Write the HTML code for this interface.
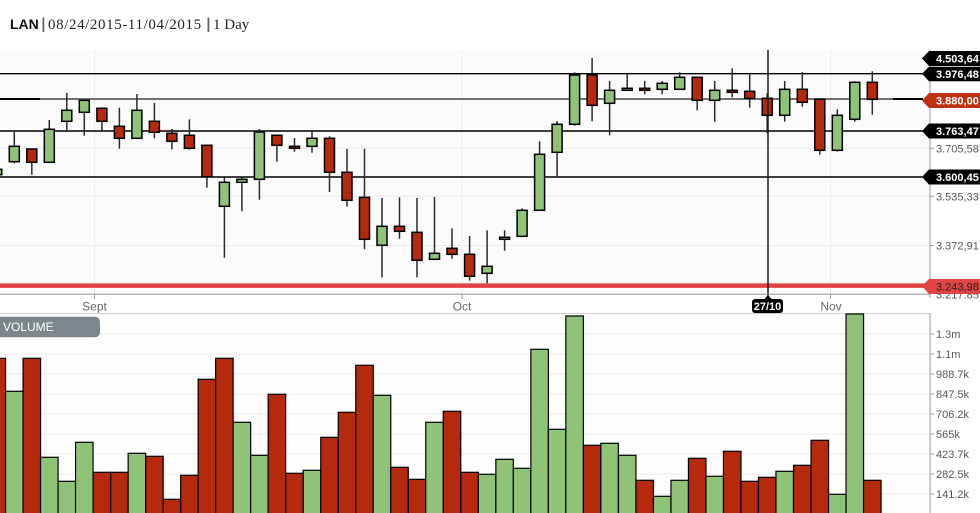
<!DOCTYPE html>
<html><head><meta charset="utf-8">
<style>
html,body{margin:0;padding:0;background:#fff;}
svg{display:block;}
</style></head>
<body>
<svg width="980" height="513" viewBox="0 0 980 513" xmlns="http://www.w3.org/2000/svg" font-family="Liberation Sans, Arial, sans-serif">
<rect x="0" y="0" width="980" height="513" fill="#ffffff"/>
<text x="10" y="29" font-size="14" font-weight="bold" fill="#111">LAN</text>
<rect x="42.5" y="17.5" width="1.8" height="14.5" fill="#666"/>
<text x="48" y="29" font-size="15" letter-spacing="0.6" fill="#222" font-family="Liberation Serif, serif">08/24/2015-11/04/2015</text>
<rect x="207.5" y="17.5" width="1.8" height="14.5" fill="#666"/>
<text x="213" y="29" font-size="15" fill="#222" font-family="Liberation Serif, serif">1 Day</text>
<rect x="0" y="50" width="930" height="244" fill="#fbfbfb"/>
<g stroke="#ececec" stroke-width="1">
<line x1="0" y1="148.3" x2="930" y2="148.3"/>
<line x1="0" y1="196.3" x2="930" y2="196.3"/>
<line x1="0" y1="245.5" x2="930" y2="245.5"/>
<line x1="94.5" y1="50" x2="94.5" y2="294"/>
<line x1="462" y1="50" x2="462" y2="294"/>
<line x1="830.5" y1="50" x2="830.5" y2="294"/>
</g>
<g stroke="#000" stroke-width="1.4">
<line x1="0" y1="73.7" x2="923" y2="73.7"/>
<line x1="0" y1="131" x2="923" y2="131"/>
<line x1="0" y1="177" x2="923" y2="177"/>
</g>
<line x1="0" y1="99" x2="40" y2="99" stroke="#000" stroke-width="2"/>
<line x1="40" y1="99" x2="893" y2="99" stroke="#707070" stroke-width="2"/>
<line x1="893" y1="99" x2="923" y2="99" stroke="#000" stroke-width="2"/>
<g stroke="#2b2b2b" stroke-width="1.5">
<line x1="14.3" y1="131" x2="14.3" y2="163.3"/>
<line x1="31.8" y1="149" x2="31.8" y2="174.7"/>
<line x1="49.3" y1="120" x2="49.3" y2="162.3"/>
<line x1="66.8" y1="93" x2="66.8" y2="130.7"/>
<line x1="84.3" y1="99.3" x2="84.3" y2="135.7"/>
<line x1="101.9" y1="107.3" x2="101.9" y2="130.7"/>
<line x1="119.4" y1="107.7" x2="119.4" y2="148.7"/>
<line x1="136.9" y1="94" x2="136.9" y2="138.3"/>
<line x1="154.4" y1="103" x2="154.4" y2="138.3"/>
<line x1="171.9" y1="129" x2="171.9" y2="149.3"/>
<line x1="189.4" y1="119.3" x2="189.4" y2="149.7"/>
<line x1="206.9" y1="145.3" x2="206.9" y2="187.7"/>
<line x1="224.4" y1="177.3" x2="224.4" y2="257.7"/>
<line x1="241.9" y1="177.3" x2="241.9" y2="211.3"/>
<line x1="259.4" y1="129" x2="259.4" y2="199.7"/>
<line x1="276.9" y1="135.3" x2="276.9" y2="161.7"/>
<line x1="294.5" y1="138" x2="294.5" y2="151.7"/>
<line x1="312" y1="131.3" x2="312" y2="152.7"/>
<line x1="329.5" y1="136.3" x2="329.5" y2="192"/>
<line x1="347" y1="149" x2="347" y2="206.7"/>
<line x1="364.5" y1="148.7" x2="364.5" y2="249.3"/>
<line x1="382" y1="198" x2="382" y2="277.3"/>
<line x1="399.5" y1="197.3" x2="399.5" y2="238.7"/>
<line x1="417" y1="198" x2="417" y2="277.3"/>
<line x1="434.5" y1="197" x2="434.5" y2="259.3"/>
<line x1="452" y1="228.3" x2="452" y2="258.7"/>
<line x1="469.6" y1="236" x2="469.6" y2="280.7"/>
<line x1="487.1" y1="230.3" x2="487.1" y2="283.3"/>
<line x1="504.6" y1="230.3" x2="504.6" y2="250.7"/>
<line x1="522.1" y1="208.3" x2="522.1" y2="237.3"/>
<line x1="539.6" y1="141.3" x2="539.6" y2="210.3"/>
<line x1="557.1" y1="121" x2="557.1" y2="177"/>
<line x1="574.6" y1="72.3" x2="574.6" y2="125.7"/>
<line x1="592.1" y1="58" x2="592.1" y2="121.3"/>
<line x1="609.6" y1="81" x2="609.6" y2="135.3"/>
<line x1="627.2" y1="74.3" x2="627.2" y2="90.3"/>
<line x1="644.7" y1="81" x2="644.7" y2="94.3"/>
<line x1="662.2" y1="81" x2="662.2" y2="94.3"/>
<line x1="679.7" y1="72.3" x2="679.7" y2="89.3"/>
<line x1="697.2" y1="77.3" x2="697.2" y2="110.3"/>
<line x1="714.7" y1="81" x2="714.7" y2="121.7"/>
<line x1="732.2" y1="68.3" x2="732.2" y2="97.3"/>
<line x1="749.7" y1="73.3" x2="749.7" y2="107.7"/>
<line x1="767.2" y1="93.3" x2="767.2" y2="133.3"/>
<line x1="784.7" y1="81" x2="784.7" y2="121.7"/>
<line x1="802.3" y1="72" x2="802.3" y2="106.7"/>
<line x1="819.8" y1="99.3" x2="819.8" y2="154.7"/>
<line x1="837.3" y1="109.3" x2="837.3" y2="151.7"/>
<line x1="854.8" y1="81.3" x2="854.8" y2="121.7"/>
<line x1="872.3" y1="71.3" x2="872.3" y2="114.7"/>
</g>
<g stroke="#000" stroke-width="1.5">
<rect x="-8.2" y="169.3" width="10" height="5.4" fill="#8ec378"/>
<rect x="9.3" y="146.3" width="10" height="15.4" fill="#8ec378"/>
<rect x="26.8" y="149" width="10" height="13.3" fill="#b52a0c"/>
<rect x="44.3" y="129.3" width="10" height="33" fill="#8ec378"/>
<rect x="61.8" y="110.3" width="10" height="11" fill="#8ec378"/>
<rect x="79.3" y="100.3" width="10" height="12" fill="#8ec378"/>
<rect x="96.9" y="108.3" width="10" height="13" fill="#b52a0c"/>
<rect x="114.4" y="126.3" width="10" height="12" fill="#b52a0c"/>
<rect x="131.9" y="110.3" width="10" height="28" fill="#8ec378"/>
<rect x="149.4" y="121.3" width="10" height="11" fill="#b52a0c"/>
<rect x="166.9" y="133.3" width="10" height="8" fill="#b52a0c"/>
<rect x="184.4" y="135.3" width="10" height="13" fill="#b52a0c"/>
<rect x="201.9" y="145.3" width="10" height="31.4" fill="#b52a0c"/>
<rect x="219.4" y="182.3" width="10" height="24" fill="#8ec378"/>
<rect x="236.9" y="179.3" width="10" height="3" fill="#8ec378"/>
<rect x="254.4" y="132" width="10" height="47.3" fill="#8ec378"/>
<rect x="271.9" y="135.3" width="10" height="10" fill="#b52a0c"/>
<rect x="289.5" y="146.3" width="10" height="2" fill="#b52a0c"/>
<rect x="307" y="138.3" width="10" height="8" fill="#8ec378"/>
<rect x="324.5" y="138.3" width="10" height="34" fill="#b52a0c"/>
<rect x="342" y="172.3" width="10" height="28" fill="#b52a0c"/>
<rect x="359.5" y="197.3" width="10" height="42" fill="#b52a0c"/>
<rect x="377" y="226.3" width="10" height="19" fill="#8ec378"/>
<rect x="394.5" y="226.3" width="10" height="5" fill="#b52a0c"/>
<rect x="412" y="232.3" width="10" height="28" fill="#b52a0c"/>
<rect x="429.5" y="253.3" width="10" height="6" fill="#8ec378"/>
<rect x="447" y="248.3" width="10" height="6" fill="#b52a0c"/>
<rect x="464.6" y="254.3" width="10" height="22" fill="#b52a0c"/>
<rect x="482.1" y="266.3" width="10" height="7" fill="#8ec378"/>
<rect x="499.6" y="237.3" width="10" height="2" fill="#8ec378"/>
<rect x="517.1" y="210.3" width="10" height="26" fill="#8ec378"/>
<rect x="534.6" y="154.3" width="10" height="56" fill="#8ec378"/>
<rect x="552.1" y="124.3" width="10" height="28" fill="#8ec378"/>
<rect x="569.6" y="75" width="10" height="49.3" fill="#8ec378"/>
<rect x="587.1" y="75" width="10" height="30.3" fill="#b52a0c"/>
<rect x="604.6" y="90.3" width="10" height="13" fill="#8ec378"/>
<rect x="622.2" y="88.3" width="10" height="2" fill="#8ec378"/>
<rect x="639.7" y="88.3" width="10" height="2" fill="#b52a0c"/>
<rect x="657.2" y="83.3" width="10" height="6" fill="#8ec378"/>
<rect x="674.7" y="77.3" width="10" height="12" fill="#8ec378"/>
<rect x="692.2" y="77.3" width="10" height="23" fill="#b52a0c"/>
<rect x="709.7" y="90.3" width="10" height="10" fill="#8ec378"/>
<rect x="727.2" y="90.3" width="10" height="2" fill="#b52a0c"/>
<rect x="744.7" y="91.3" width="10" height="7" fill="#b52a0c"/>
<rect x="762.2" y="98.3" width="10" height="17" fill="#b52a0c"/>
<rect x="779.7" y="89.3" width="10" height="26" fill="#8ec378"/>
<rect x="797.3" y="89.3" width="10" height="13" fill="#b52a0c"/>
<rect x="814.8" y="99.3" width="10" height="51" fill="#b52a0c"/>
<rect x="832.3" y="115.3" width="10" height="35" fill="#8ec378"/>
<rect x="849.8" y="82.3" width="10" height="37" fill="#8ec378"/>
<rect x="867.3" y="82.3" width="10" height="17" fill="#b52a0c"/>
</g>
<line x1="0" y1="285.6" x2="925" y2="285.6" stroke="#e04343" stroke-width="4.5"/>
<line x1="768" y1="50" x2="768" y2="297" stroke="#1a1a1a" stroke-width="1.5"/>
<line x1="0" y1="294.3" x2="930" y2="294.3" stroke="#9a9a9a" stroke-width="1"/>
<g stroke="#9a9a9a" stroke-width="1">
<line x1="94.5" y1="294" x2="94.5" y2="299"/>
<line x1="462" y1="294" x2="462" y2="299"/>
<line x1="830.5" y1="294" x2="830.5" y2="299"/>
</g>
<g font-size="12" fill="#666" text-anchor="middle">
<text x="94.5" y="310.5">Sept</text>
<text x="462" y="310.5">Oct</text>
<text x="831" y="310.5">Nov</text>
</g>
<polygon points="764,299.5 768,295 772,299.5" fill="#000"/>
<rect x="752" y="299" width="31" height="14" rx="3" fill="#000"/>
<text x="767.5" y="310" font-size="11" font-weight="bold" fill="#fff" text-anchor="middle">27/10</text>
<line x1="930" y1="50" x2="930" y2="298" stroke="#9a9a9a" stroke-width="1"/>
<g stroke="#9a9a9a" stroke-width="1">
<line x1="930" y1="148.3" x2="934" y2="148.3"/>
<line x1="930" y1="196.3" x2="934" y2="196.3"/>
<line x1="930" y1="245.5" x2="934" y2="245.5"/>
</g>
<g font-size="11" fill="#555">
<text x="936" y="152.3">3.705,58</text>
<text x="936" y="200.3">3.535,33</text>
<text x="936" y="249.5">3.372,91</text>
<text x="936" y="298.5">3.217,85</text>
</g>
<rect x="931" y="298.5" width="49" height="14" fill="#fff"/>
<g font-size="11" font-weight="bold">
<polygon points="922,58.5 929,51 980,51 980,66 929,66" fill="#000"/>
<text x="936" y="62.5" fill="#fff">4.503,64</text>
<polygon points="922,73.8 929,66.8 980,66.8 980,81.3 929,81.3" fill="#000"/>
<text x="936" y="77.8" fill="#fff">3.976,48</text>
<polygon points="922,100.5 929,93 980,93 980,108 929,108" fill="#be3211"/>
<text x="936" y="104.5" fill="#fff">3.880,00</text>
<polygon points="922,131 929,123.5 980,123.5 980,138.5 929,138.5" fill="#000"/>
<text x="936" y="135" fill="#fff">3.763,47</text>
<polygon points="922,177 929,169.5 980,169.5 980,184.5 929,184.5" fill="#000"/>
<text x="936" y="181" fill="#fff">3.600,45</text>
<polygon points="922,286.3 929,279 980,279 980,294 929,294" fill="#e04343"/>
<text x="936" y="290.3" fill="#222" font-weight="normal">3.243,98</text>
</g>
<rect x="0" y="313.5" width="930" height="200" fill="#fdfdfd"/>
<line x1="0" y1="313.5" x2="930" y2="313.5" stroke="#cfcfcf" stroke-width="1"/>
<line x1="930" y1="313" x2="930" y2="513" stroke="#9a9a9a" stroke-width="1"/>
<g stroke="#ececec" stroke-width="1">
<line x1="0" y1="334" x2="930" y2="334"/>
<line x1="0" y1="354" x2="930" y2="354"/>
<line x1="0" y1="374" x2="930" y2="374"/>
<line x1="0" y1="394" x2="930" y2="394"/>
<line x1="0" y1="414" x2="930" y2="414"/>
<line x1="0" y1="434" x2="930" y2="434"/>
<line x1="0" y1="454" x2="930" y2="454"/>
<line x1="0" y1="474" x2="930" y2="474"/>
<line x1="0" y1="494" x2="930" y2="494"/>
</g>
<g stroke="#9a9a9a" stroke-width="1">
<line x1="930" y1="334" x2="934" y2="334"/>
<line x1="930" y1="354" x2="934" y2="354"/>
<line x1="930" y1="374" x2="934" y2="374"/>
<line x1="930" y1="394" x2="934" y2="394"/>
<line x1="930" y1="414" x2="934" y2="414"/>
<line x1="930" y1="434" x2="934" y2="434"/>
<line x1="930" y1="454" x2="934" y2="454"/>
<line x1="930" y1="474" x2="934" y2="474"/>
<line x1="930" y1="494" x2="934" y2="494"/>
</g>
<g font-size="11" fill="#555">
<text x="936" y="338">1.3m</text>
<text x="936" y="358">1.1m</text>
<text x="936" y="378">988.7k</text>
<text x="936" y="398">847.5k</text>
<text x="936" y="418">706.2k</text>
<text x="936" y="438">565k</text>
<text x="936" y="458">423.7k</text>
<text x="936" y="478">282.5k</text>
<text x="936" y="498">141.2k</text>
</g>
<g stroke="#000" stroke-width="1.2">
<rect x="-11.95" y="358.3" width="17.51" height="157" fill="#b52a0c"/>
<rect x="5.55" y="391.3" width="17.51" height="124" fill="#8ec378"/>
<rect x="23.05" y="358.3" width="17.51" height="157" fill="#b52a0c"/>
<rect x="40.55" y="457.3" width="17.51" height="58" fill="#8ec378"/>
<rect x="58.05" y="481.3" width="17.51" height="34" fill="#8ec378"/>
<rect x="75.55" y="442.3" width="17.51" height="73" fill="#8ec378"/>
<rect x="93.15" y="472.3" width="17.51" height="43" fill="#b52a0c"/>
<rect x="110.65" y="472.3" width="17.51" height="43" fill="#b52a0c"/>
<rect x="128.15" y="453.3" width="17.51" height="62" fill="#8ec378"/>
<rect x="145.65" y="456.3" width="17.51" height="59" fill="#b52a0c"/>
<rect x="163.15" y="499.3" width="17.51" height="16" fill="#b52a0c"/>
<rect x="180.65" y="475.3" width="17.51" height="40" fill="#b52a0c"/>
<rect x="198.15" y="379.3" width="17.51" height="136" fill="#b52a0c"/>
<rect x="215.65" y="358.3" width="17.51" height="157" fill="#b52a0c"/>
<rect x="233.15" y="422.3" width="17.51" height="93" fill="#8ec378"/>
<rect x="250.65" y="455.3" width="17.51" height="60" fill="#8ec378"/>
<rect x="268.15" y="394.3" width="17.51" height="121" fill="#b52a0c"/>
<rect x="285.75" y="473.3" width="17.51" height="42" fill="#b52a0c"/>
<rect x="303.25" y="470.3" width="17.51" height="45" fill="#8ec378"/>
<rect x="320.75" y="437.3" width="17.51" height="78" fill="#b52a0c"/>
<rect x="338.25" y="412.3" width="17.51" height="103" fill="#b52a0c"/>
<rect x="355.75" y="365.3" width="17.51" height="150" fill="#b52a0c"/>
<rect x="373.25" y="395.3" width="17.51" height="120" fill="#8ec378"/>
<rect x="390.75" y="467.3" width="17.51" height="48" fill="#b52a0c"/>
<rect x="408.25" y="479.3" width="17.51" height="36" fill="#b52a0c"/>
<rect x="425.75" y="422.3" width="17.51" height="93" fill="#8ec378"/>
<rect x="443.25" y="411.3" width="17.51" height="104" fill="#b52a0c"/>
<rect x="460.85" y="472.3" width="17.51" height="43" fill="#b52a0c"/>
<rect x="478.35" y="474.3" width="17.51" height="41" fill="#8ec378"/>
<rect x="495.85" y="459.3" width="17.51" height="56" fill="#8ec378"/>
<rect x="513.35" y="468.3" width="17.51" height="47" fill="#8ec378"/>
<rect x="530.85" y="349.3" width="17.51" height="166" fill="#8ec378"/>
<rect x="548.35" y="429.3" width="17.51" height="86" fill="#8ec378"/>
<rect x="565.85" y="316" width="17.51" height="199.3" fill="#8ec378"/>
<rect x="583.35" y="445.3" width="17.51" height="70" fill="#b52a0c"/>
<rect x="600.85" y="443.3" width="17.51" height="72" fill="#8ec378"/>
<rect x="618.45" y="455.3" width="17.51" height="60" fill="#8ec378"/>
<rect x="635.95" y="480.3" width="17.51" height="35" fill="#b52a0c"/>
<rect x="653.45" y="496.3" width="17.51" height="19" fill="#8ec378"/>
<rect x="670.95" y="480.3" width="17.51" height="35" fill="#8ec378"/>
<rect x="688.45" y="458.3" width="17.51" height="57" fill="#b52a0c"/>
<rect x="705.95" y="476.3" width="17.51" height="39" fill="#8ec378"/>
<rect x="723.45" y="451.3" width="17.51" height="64" fill="#b52a0c"/>
<rect x="740.95" y="481.3" width="17.51" height="34" fill="#b52a0c"/>
<rect x="758.45" y="477.3" width="17.51" height="38" fill="#b52a0c"/>
<rect x="775.95" y="471.3" width="17.51" height="44" fill="#8ec378"/>
<rect x="793.55" y="465.3" width="17.51" height="50" fill="#b52a0c"/>
<rect x="811.05" y="440.3" width="17.51" height="75" fill="#b52a0c"/>
<rect x="828.55" y="494.3" width="17.51" height="21" fill="#8ec378"/>
<rect x="846.05" y="314" width="17.51" height="201.3" fill="#8ec378"/>
<rect x="863.55" y="480.3" width="17.51" height="35" fill="#b52a0c"/>
</g>
<rect x="-6" y="316.7" width="106" height="20.6" rx="5" fill="#7d878b"/>
<text x="3" y="330.8" font-size="12" fill="#fff">VOLUME</text>
</svg>
</body></html>
